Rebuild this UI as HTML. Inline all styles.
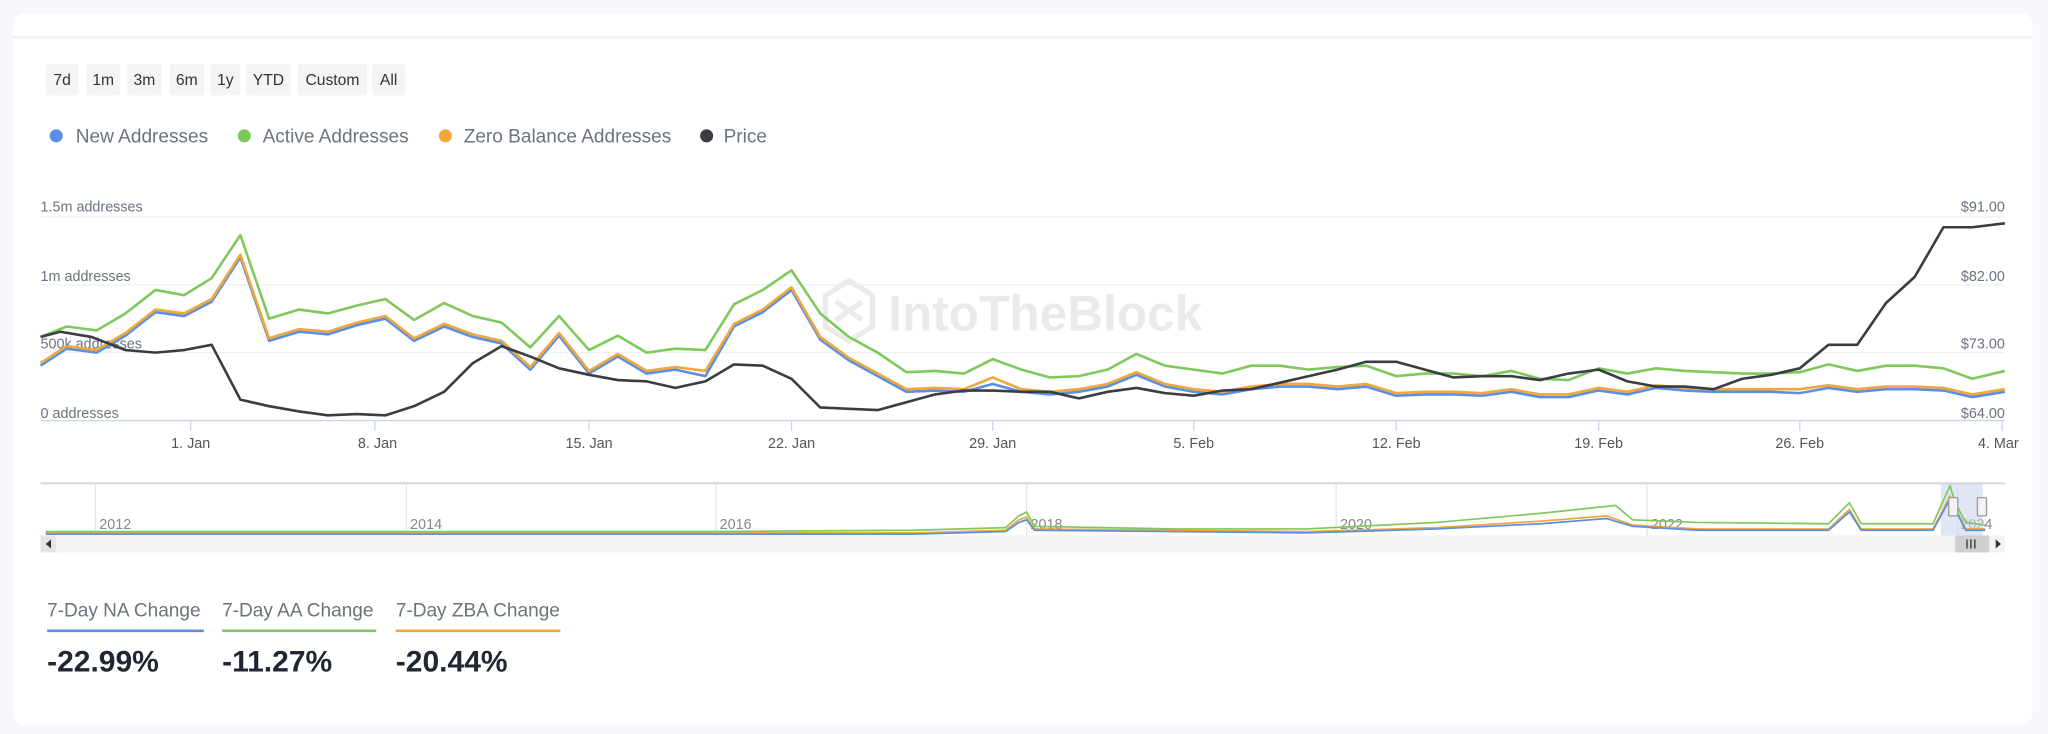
<!DOCTYPE html>
<html><head><meta charset="utf-8"><style>
html,body{margin:0;padding:0;background:#f6f8fb;}
svg{display:block;font-family:"Liberation Sans",sans-serif;}
</style></head><body>
<svg width="2048" height="734" viewBox="0 0 1568 562" xmlns="http://www.w3.org/2000/svg">
<rect x="0" y="0" width="1568" height="562" fill="#f6f8fb"/>
<rect x="10" y="10" width="1546" height="545" rx="8" fill="#fff"/>
<line x1="10" y1="28.5" x2="1556" y2="28.5" stroke="#eceef2" stroke-width="1.5"/>
<!-- buttons -->
<g font-size="12" fill="#333" text-anchor="middle">
<rect x="35" y="49" width="25" height="24" rx="2" fill="#f4f4f4"/><text x="47.5" y="65">7d</text>
<rect x="66" y="49" width="26" height="24" rx="2" fill="#f4f4f4"/><text x="79" y="65">1m</text>
<rect x="97" y="49" width="27" height="24" rx="2" fill="#f4f4f4"/><text x="110.5" y="65">3m</text>
<rect x="130" y="49" width="26" height="24" rx="2" fill="#f4f4f4"/><text x="143" y="65">6m</text>
<rect x="161" y="49" width="23" height="24" rx="2" fill="#f4f4f4"/><text x="172.5" y="65">1y</text>
<rect x="188" y="49" width="35" height="24" rx="2" fill="#f4f4f4"/><text x="205.5" y="65">YTD</text>
<rect x="228" y="49" width="53" height="24" rx="2" fill="#f4f4f4"/><text x="254.5" y="65">Custom</text>
<rect x="285" y="49" width="25" height="24" rx="2" fill="#f4f4f4"/><text x="297.5" y="65">All</text>
</g>
<!-- legend -->
<g font-size="14.6" fill="#6b7280">
<circle cx="43" cy="104" r="5" fill="#5b8fe3"/><text x="58" y="109">New Addresses</text>
<circle cx="187" cy="104" r="5" fill="#7fc95c"/><text x="201" y="109">Active Addresses</text>
<circle cx="341" cy="104" r="5" fill="#eea83c"/><text x="355" y="109">Zero Balance Addresses</text>
<circle cx="541" cy="104" r="5" fill="#3a3d42"/><text x="554" y="109">Price</text>
</g>
<!-- watermark -->
<g opacity="0.6">
<path d="M650 215 L668 226 L668 250 L650 261 L632 250 L632 226 Z M640 231 L660 245 M640 245 L660 231" fill="none" stroke="#ddd" stroke-width="4"/>
<text x="680" y="253" font-size="38" font-weight="bold" fill="#ddd">IntoTheBlock</text>
</g>
<!-- grid -->
<g stroke="#eef0f3" stroke-width="1">
<line x1="31" y1="166" x2="1535" y2="166"/><line x1="31" y1="218" x2="1535" y2="218"/><line x1="31" y1="270" x2="1535" y2="270"/>
</g>
<line x1="31" y1="322" x2="1535" y2="322" stroke="#ccd6eb" stroke-width="1"/>
<g stroke="#ccd6eb"><line x1="146" y1="322" x2="146" y2="330"/><line x1="287" y1="322" x2="287" y2="330"/><line x1="451" y1="322" x2="451" y2="330"/><line x1="606" y1="322" x2="606" y2="330"/><line x1="760" y1="322" x2="760" y2="330"/><line x1="914" y1="322" x2="914" y2="330"/><line x1="1069" y1="322" x2="1069" y2="330"/><line x1="1224" y1="322" x2="1224" y2="330"/><line x1="1378" y1="322" x2="1378" y2="330"/><line x1="1533" y1="322" x2="1533" y2="330"/></g>
<g font-size="11" fill="#6b7280">
<text x="31" y="162">1.5m addresses</text><text x="31" y="215">1m addresses</text><text x="31" y="267">500k addresses</text><text x="31" y="320">0 addresses</text>
</g>
<g font-size="11" fill="#6b7280" text-anchor="end">
<text x="1535" y="162">$91.00</text><text x="1535" y="215">$82.00</text><text x="1535" y="267">$73.00</text><text x="1535" y="320">$64.00</text>
</g>
<g font-size="11" fill="#555" text-anchor="middle">
<text x="146" y="343">1. Jan</text><text x="289" y="343">8. Jan</text><text x="451" y="343">15. Jan</text><text x="606" y="343">22. Jan</text><text x="760" y="343">29. Jan</text><text x="914" y="343">5. Feb</text><text x="1069" y="343">12. Feb</text><text x="1224" y="343">19. Feb</text><text x="1378" y="343">26. Feb</text><text x="1530" y="343">4. Mar</text>
</g>
<!-- series -->
<g fill="none" stroke-width="2" stroke-linejoin="round">
<polyline stroke="#5b8fe3" points="31,280 51,267 74,270 96,257 119,239 141,242 162,231 184,197 206,261 229,254 251,256 273,249 295,244 317,261 340,250 362,258 384,263 406,283 428,257 451,286 473,273 495,286 517,283 540,288 562,250 584,239 606,222 628,260 650,276 672,288 694,300 716,299 738,300 760,294 782,300 804,302 826,300 848,296 870,287 892,296 914,300 936,302 958,298 980,296 1002,296 1024,298 1046,296 1069,303 1091,302 1113,302 1135,303 1157,300 1179,304 1201,304 1224,299 1246,302 1268,297 1290,299 1312,300 1334,300 1356,300 1378,301 1400,297 1422,300 1444,298 1466,298 1488,299 1510,304 1535,300"/>
<polyline stroke="#eea83c" points="31,278 51,265 74,268 96,255 119,237 141,240 162,229 184,195 206,259 229,252 251,254 273,247 295,242 317,259 340,248 362,256 384,261 406,281 428,255 451,284 473,271 495,284 517,281 540,284 562,248 584,237 606,220 628,258 650,274 672,286 694,298 716,297 738,298 760,289 782,298 804,300 826,298 848,294 870,285 892,294 914,298 936,300 958,296 980,294 1002,294 1024,296 1046,294 1069,301 1091,300 1113,300 1135,301 1157,298 1179,302 1201,302 1224,297 1246,300 1268,295 1290,297 1312,298 1334,298 1356,298 1378,298 1400,295 1422,298 1444,296 1466,296 1488,297 1510,302 1535,298"/>
<polyline stroke="#7fc95c" points="31,258 51,250 74,253 96,240 119,222 141,226 162,213 184,180 206,244 229,237 251,240 273,234 295,229 317,245 340,232 362,242 384,247 406,266 428,242 451,268 473,257 495,270 517,267 540,268 562,233 584,222 606,207 628,240 650,258 672,270 694,285 716,284 738,286 760,275 782,283 804,289 826,288 848,283 870,271 892,280 914,283 936,286 958,280 980,280 1002,283 1024,281 1046,280 1069,288 1091,286 1113,286 1135,288 1157,284 1179,290 1201,291 1224,282 1246,286 1268,282 1290,284 1312,285 1334,286 1356,286 1378,285 1400,279 1422,284 1444,280 1466,280 1488,282 1510,290 1535,284"/>
<polyline stroke="#3a3d42" points="31,258 46,254 70,258 96,268 119,270 141,268 162,264 184,306 206,311 229,315 251,318 273,317 295,318 317,311 340,300 362,278 384,265 406,273 428,282 451,287 473,291 495,292 517,297 540,292 562,279 584,280 606,290 628,312 650,313 672,314 694,308 716,302 738,299 760,299 782,300 804,300 826,305 848,300 870,297 892,301 914,303 936,299 958,298 980,293 1002,288 1024,283 1046,277 1069,277 1091,283 1113,289 1135,288 1157,288 1179,291 1201,286 1224,283 1246,292 1268,296 1290,296 1312,298 1334,290 1356,287 1378,282 1400,264 1422,264 1444,232 1466,212 1488,174 1510,174 1535,171"/>
</g>
<!-- navigator -->
<line x1="31" y1="370" x2="1535" y2="370" stroke="#d8d8d8" stroke-width="1.5"/>
<g stroke="#e6e6e6"><line x1="73" y1="370" x2="73" y2="410"/><line x1="311" y1="370" x2="311" y2="410"/><line x1="548" y1="370" x2="548" y2="410"/><line x1="786" y1="370" x2="786" y2="410"/><line x1="1023" y1="370" x2="1023" y2="410"/><line x1="1261" y1="370" x2="1261" y2="410"/><line x1="1499" y1="370" x2="1499" y2="410"/></g>
<g font-size="11" fill="#888"><text x="76" y="405">2012</text><text x="314" y="405">2014</text><text x="551" y="405">2016</text><text x="789" y="405">2018</text><text x="1026" y="405">2020</text><text x="1264" y="405">2022</text><text x="1501" y="405">2024</text></g>
<rect x="1486" y="370" width="32" height="40" fill="#ccd6eb" opacity="0.6"/>
<g fill="none" stroke-width="1.3">
<polyline stroke="#eea83c" points="35,408 700,408 770,406 780,398 786,396 792,405 1000,407 1100,404 1180,399 1230,395 1250,402 1300,405 1400,405 1416,390 1425,405 1480,405 1493,380 1505,405 1520,405"/>
<polyline stroke="#5b8fe3" points="35,409 700,409 770,407 780,400 786,398 792,406 1000,408 1100,405 1180,401 1230,397 1250,403 1300,406 1400,406 1416,392 1425,406 1480,406 1493,382 1505,406 1520,406"/>
<polyline stroke="#7fc95c" points="35,407 540,407 700,406 770,404 780,395 786,392 792,403 900,405 1000,405 1100,400 1180,393 1237,387 1250,398 1300,400 1400,401 1416,385 1425,401 1480,401 1493,372 1497,385 1505,400 1520,402"/>
</g>
<g fill="#f2f2f2" stroke="#999" stroke-width="1">
<rect x="1492" y="381" width="7" height="14" rx="1"/><rect x="1514" y="381" width="7" height="14" rx="1"/>
</g>
<rect x="31" y="410" width="1504" height="13" fill="#f2f2f2"/>
<rect x="31" y="410" width="12" height="13" fill="#e6e6e6"/>
<path d="M39 413 L35 416.5 L39 420 Z" fill="#333"/>
<rect x="1497" y="410" width="26" height="13" fill="#cfcfcf"/>
<g stroke="#333" stroke-width="1"><line x1="1506" y1="413" x2="1506" y2="420"/><line x1="1509" y1="413" x2="1509" y2="420"/><line x1="1512" y1="413" x2="1512" y2="420"/></g>
<path d="M1528 413 L1532 416.5 L1528 420 Z" fill="#333"/>
<!-- stats -->
<g font-size="14.6" fill="#6b7280">
<text x="36" y="472">7-Day NA Change</text><text x="170" y="472">7-Day AA Change</text><text x="303" y="472">7-Day ZBA Change</text>
</g>
<rect x="36" y="482" width="120" height="2" fill="#5b8fe3"/>
<rect x="170" y="482" width="118" height="2" fill="#7fc95c"/>
<rect x="303" y="482" width="126" height="2" fill="#eea83c"/>
<g font-size="23" fill="#1f2733" font-weight="bold">
<text x="36" y="514">-22.99%</text><text x="170" y="514">-11.27%</text><text x="303" y="514">-20.44%</text>
</g>
</svg>
</body></html>
